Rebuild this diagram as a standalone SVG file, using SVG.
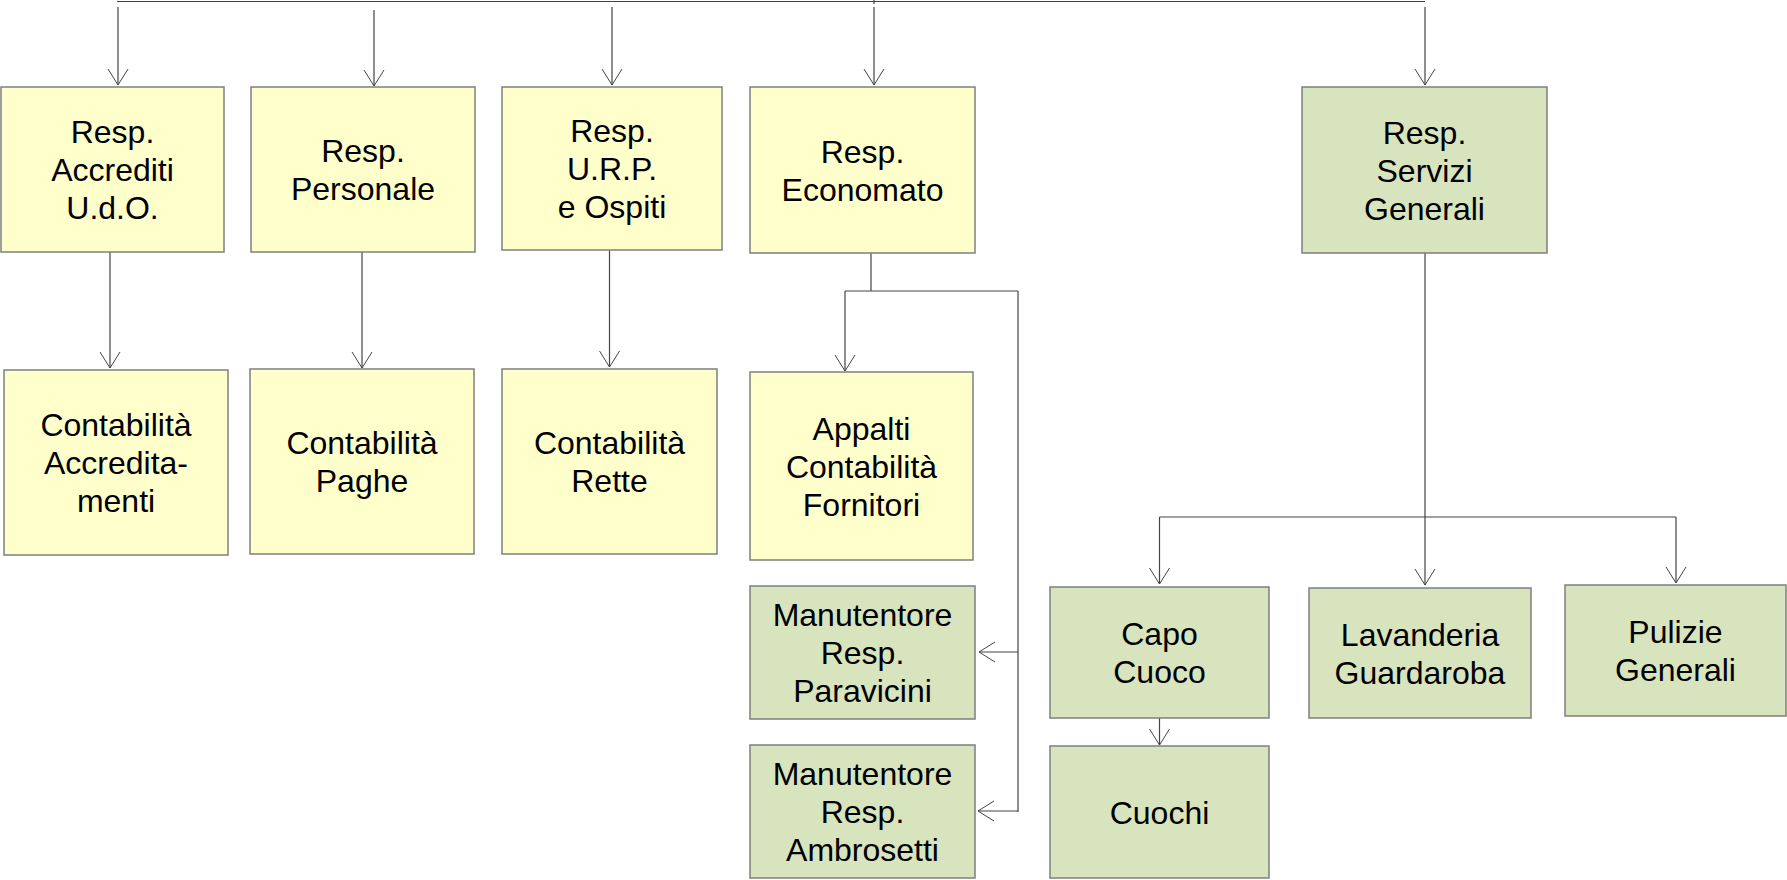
<svg xmlns="http://www.w3.org/2000/svg" width="1787" height="880" viewBox="0 0 1787 880">
<style>
.y{fill:#FFFFCC;stroke:#7F7F7F;stroke-width:1.5}
.g{fill:#D7E4BD;stroke:#7F7F7F;stroke-width:1.5}
text{font-family:"Liberation Sans",Arial,sans-serif;font-size:32px;fill:#000;text-anchor:middle}
.c path{fill:none;stroke:#444;stroke-width:1.2}
</style>
<defs>
<marker id="a" markerWidth="20" markerHeight="22" refX="16" refY="11" orient="auto" markerUnits="userSpaceOnUse" overflow="visible">
<path d="M0,1 L16,11 L0,21" fill="none" stroke="#444" stroke-width="1"/>
</marker>
</defs>
<rect width="1787" height="880" fill="#fff"/>
<g class="c" id="connectors">
<path d="M117,1.5 H1425"/>
<path d="M874,0 V4"/>
<path d="M118,7 V85" marker-end="url(#a)"/>
<path d="M374,10 V86" marker-end="url(#a)"/>
<path d="M612,7 V85" marker-end="url(#a)"/>
<path d="M874,7 V85" marker-end="url(#a)"/>
<path d="M1425,7 V85" marker-end="url(#a)"/>
<path d="M110,252 V368" marker-end="url(#a)"/>
<path d="M362,252 V368" marker-end="url(#a)"/>
<path d="M609.5,250 V367" marker-end="url(#a)"/>
<path d="M871,250 V291"/>
<path d="M845,291 H1018"/>
<path d="M845,291 V371" marker-end="url(#a)"/>
<path d="M1018,291 V812"/>
<path d="M1018,652 H979" marker-end="url(#a)"/>
<path d="M1018,811 H978" marker-end="url(#a)"/>
<path d="M1425,253 V585" marker-end="url(#a)"/>
<path d="M1159.5,517 H1676"/>
<path d="M1159.5,517 V584" marker-end="url(#a)"/>
<path d="M1676,517 V583" marker-end="url(#a)"/>
<path d="M1159.5,718 V745" marker-end="url(#a)"/>
</g>
<g id="n1"><rect class="y" x="1" y="87" width="223" height="165"/><text x="112.5" y="143">Resp.</text><text x="112.5" y="181">Accrediti</text><text x="112.5" y="219">U.d.O.</text></g>
<g id="n2"><rect class="y" x="251" y="87" width="224" height="165"/><text x="363" y="162">Resp.</text><text x="363" y="200">Personale</text></g>
<g id="n3"><rect class="y" x="502" y="87" width="220" height="163"/><text x="612" y="142">Resp.</text><text x="612" y="180">U.R.P.</text><text x="612" y="218">e Ospiti</text></g>
<g id="n4"><rect class="y" x="750" y="87" width="225" height="166"/><text x="862.5" y="162.5">Resp.</text><text x="862.5" y="200.5">Economato</text></g>
<g id="n5"><rect class="g" x="1302" y="87" width="245" height="166"/><text x="1424.5" y="143.5">Resp.</text><text x="1424.5" y="181.5">Servizi</text><text x="1424.5" y="219.5">Generali</text></g>
<g id="n6"><rect class="y" x="4" y="370" width="224" height="185"/><text x="116" y="436">Contabilità</text><text x="116" y="474">Accredita-</text><text x="116" y="512">menti</text></g>
<g id="n7"><rect class="y" x="250" y="369" width="224" height="185"/><text x="362" y="454">Contabilità</text><text x="362" y="492">Paghe</text></g>
<g id="n8"><rect class="y" x="502" y="369" width="215" height="185"/><text x="609.5" y="454">Contabilità</text><text x="609.5" y="492">Rette</text></g>
<g id="n9"><rect class="y" x="750" y="372" width="223" height="188"/><text x="861.5" y="439.5">Appalti</text><text x="861.5" y="477.5">Contabilità</text><text x="861.5" y="515.5">Fornitori</text></g>
<g id="n10"><rect class="g" x="750" y="586" width="225" height="133"/><text x="862.5" y="626">Manutentore</text><text x="862.5" y="664">Resp.</text><text x="862.5" y="702">Paravicini</text></g>
<g id="n11"><rect class="g" x="750" y="745" width="225" height="133"/><text x="862.5" y="785">Manutentore</text><text x="862.5" y="823">Resp.</text><text x="862.5" y="861">Ambrosetti</text></g>
<g id="n12"><rect class="g" x="1050" y="587" width="219" height="131"/><text x="1159.5" y="645">Capo</text><text x="1159.5" y="683">Cuoco</text></g>
<g id="n13"><rect class="g" x="1050" y="746" width="219" height="132"/><text x="1159.5" y="823.5">Cuochi</text></g>
<g id="n14"><rect class="g" x="1309" y="588" width="222" height="130"/><text x="1420" y="645.5">Lavanderia</text><text x="1420" y="683.5">Guardaroba</text></g>
<g id="n15"><rect class="g" x="1565" y="585" width="221" height="131"/><text x="1675.5" y="643">Pulizie</text><text x="1675.5" y="681">Generali</text></g>
</svg>
